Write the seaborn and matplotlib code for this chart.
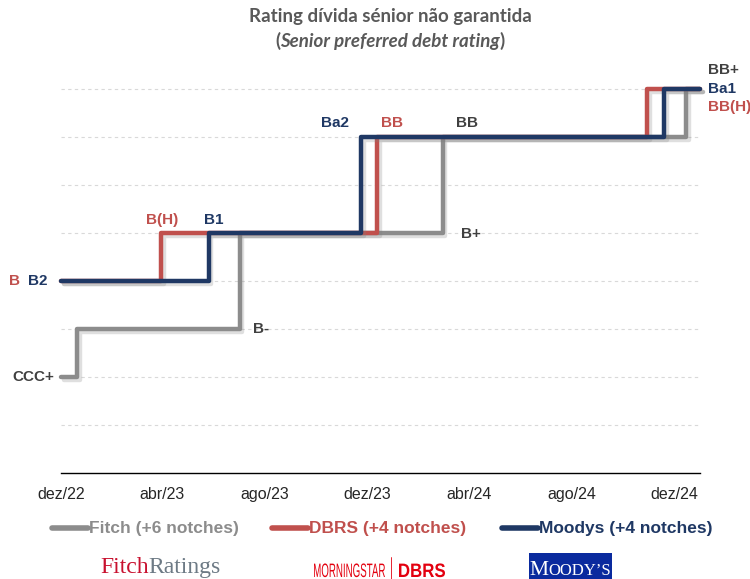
import pandas as pd
import seaborn as sns
import matplotlib.pyplot as plt
import matplotlib.patheffects as pe
from matplotlib.lines import Line2D
from matplotlib.patches import Rectangle, PathPatch
from matplotlib.textpath import TextPath
from matplotlib.font_manager import FontProperties
from matplotlib.transforms import Affine2D

# rating levels in notches (2 = CCC+, 8 = BB+)
fitch_dates = ['2022-12-01', '2022-12-20', '2023-07-02', '2024-02-29', '2024-12-15', '2025-01-01']
fitch_levels = [2, 3, 5, 7, 8, 8]
dbrs_dates = ['2022-12-01', '2023-03-30', '2023-12-13', '2024-10-30', '2025-01-01']
dbrs_levels = [4, 5, 7, 8, 8]
moodys_dates = ['2022-12-01', '2023-05-26', '2023-11-24', '2024-11-19', '2025-01-01']
moodys_levels = [4, 5, 7, 8, 8]

agencies = ['Fitch (+6 notches)', 'DBRS (+4 notches)', 'Moodys (+4 notches)']
tick_dates = ['2022-12-01', '2023-04-01', '2023-08-01', '2023-12-01',
              '2024-04-01', '2024-08-01', '2024-12-01']
tick_labels = ['dez/22', 'abr/23', 'ago/23', 'dez/23', 'abr/24', 'ago/24', 'dez/24']

GRAY, RED, NAVY = '#8c8c8c', '#c0504d', '#1f3864'
DARK = '#404040'

df = pd.concat([
    pd.DataFrame({'date': pd.to_datetime(fitch_dates), 'level': fitch_levels, 'agency': agencies[0]}),
    pd.DataFrame({'date': pd.to_datetime(dbrs_dates), 'level': dbrs_levels, 'agency': agencies[1]}),
    pd.DataFrame({'date': pd.to_datetime(moodys_dates), 'level': moodys_levels, 'agency': agencies[2]}),
])

sns.set_style('white')
plt.rcParams['font.family'] = ['Liberation Sans', 'DejaVu Sans']

fig = plt.figure(figsize=(7.5, 5.79), dpi=100)
ax = fig.add_axes([61/750, 106/579, 639/750, 432/579])

sns.lineplot(data=df, x='date', y='level', hue='agency', hue_order=agencies,
             palette=[GRAY, RED, NAVY], drawstyle='steps-post', estimator=None,
             sort=False, linewidth=3.2, legend=False, ax=ax)
for ln in ax.lines:
    ln.set_path_effects([pe.SimpleLineShadow(offset=(2, -2), alpha=0.25, shadow_color='gray'),
                         pe.Normal()])
    ln.set_clip_on(False)

ax.set_xlim(pd.Timestamp('2022-12-01'), pd.Timestamp('2025-01-01'))
ax.set_ylim(0, 9)
ax.set_yticks(range(1, 9))
ax.set_yticklabels([])
ax.tick_params(axis='y', length=0)
ax.yaxis.grid(True, color='#d9d9d9', linestyle=(0, (3, 3)), linewidth=0.8)
ax.set_axisbelow(True)
ax.set_xticks(pd.to_datetime(tick_dates))
ax.set_xticklabels(tick_labels, fontsize=11.5)
ax.tick_params(axis='x', direction='out', length=5, width=1, color='black', pad=5)
for s in ['top', 'right', 'left']:
    ax.spines[s].set_visible(False)
ax.spines['bottom'].set_color('black')
ax.spines['bottom'].set_linewidth(1)
ax.set_xlabel('')
ax.set_ylabel('')

# rating labels
kw = dict(fontsize=11, fontweight='bold', va='center')
def lab(date, lvl, txt, color, ha='center'):
    ax.text(pd.Timestamp(date), lvl, txt, color=color, ha=ha, clip_on=False, **kw)

ax.text(-0.072, 4 / 9, 'B', color=RED, ha='center', transform=ax.transAxes, **kw)
ax.text(-0.036, 4 / 9, 'B2', color=NAVY, ha='center', transform=ax.transAxes, **kw)
ax.text(-0.01, 2 / 9, 'CCC+', color=DARK, ha='right', transform=ax.transAxes, **kw)
lab('2023-07-18', 3, 'B-', DARK, ha='left')
lab('2023-04-01', 5.27, 'B(H)', RED)
lab('2023-06-01', 5.27, 'B1', NAVY)
lab('2023-10-24', 7.3, 'Ba2', NAVY)
lab('2023-12-31', 7.3, 'BB', RED)
lab('2024-03-29', 7.3, 'BB', DARK)
lab('2024-03-22', 4.98, 'B+', DARK, ha='left')
lab('2025-01-10', 8.39, 'BB+', DARK, ha='left')
lab('2025-01-10', 8.01, 'Ba1', NAVY, ha='left')
lab('2025-01-10', 7.63, 'BB(H)', RED, ha='left')

fig.canvas.draw()
r = fig.canvas.get_renderer()
W = fig.bbox.width

def row(parts, x0, y, center=False):
    # parts: list of (text, kwargs); placed one after another
    arts = []
    x = x0
    for s, k in parts:
        t = fig.text(x, y, s, ha='left', va='baseline', **k)
        x = t.get_window_extent(r).x1 / W
        arts.append(t)
    if center:
        shift = (x - x0) / 2
        for t in arts:
            t.set_x(t.get_position()[0] - shift)
    return arts

def squeezed(txt, x0, base, width, cap, color, weight='normal'):
    # text outline fitted to a given width and cap height (pixels)
    tp = TextPath((0, 0), txt, size=cap / 0.72,
                  prop=FontProperties(family='Liberation Sans', weight=weight))
    ext = tp.get_extents()
    tr = Affine2D().translate(-ext.x0, 0).scale(width / ext.width, 1).translate(x0, 579 - base)
    fig.add_artist(PathPatch(tp, facecolor=color, edgecolor='none', transform=tr))

# title
tk = dict(fontsize=13.5, color='#595959', family=['Lato', 'DejaVu Sans'], fontweight='bold')
row([('Rating dívida sénior não garantida', tk)], 390/750, 1 - 22/579, center=True)
row([('(', tk), ('Senior preferred debt rating', dict(tk, style='italic')), (')', tk)],
    390/750, 1 - 47/579, center=True)

# legend drawn by hand to follow the original spacing
leg_x = [52, 272, 502]
for (xp, name, c) in zip(leg_x, agencies, [GRAY, RED, NAVY]):
    fig.add_artist(Line2D([xp/750, (xp + 36)/750], [1 - 528/579] * 2, color=c, lw=4,
                          solid_capstyle='round'))
    fig.text((xp + 37)/750, 1 - 528/579, name, ha='left', va='center', fontsize=12.5,
             fontweight='bold', color=c)

# agency logos
row([('Fitch', dict(fontsize=17, color='#c8102e', family='Liberation Serif')),
     ('Ratings', dict(fontsize=17, color='#6d7a85', family='Liberation Serif'))],
    100/750, 1 - 573/579)
squeezed('MORNINGSTAR', 314, 577, 71, 14, '#e3000f')
fig.add_artist(Line2D([391/750, 391/750], [1 - 557/579, 1 - 579/579], color='#e3000f', lw=0.6))
squeezed('DBRS', 399, 577, 46, 14, '#e3000f', weight='bold')
fig.add_artist(Rectangle((529/750, 0), 83/750, 26/579, transform=fig.transFigure,
                         facecolor='#0a2a9e', edgecolor='none'))
mk = dict(color='white', family='Liberation Serif')
row([('M', dict(mk, fontsize=15.5)), ('OODY’S', dict(mk, fontsize=12))],
    570/750, 1 - 575/579, center=True)

fig.savefig('out.png', dpi=100)
